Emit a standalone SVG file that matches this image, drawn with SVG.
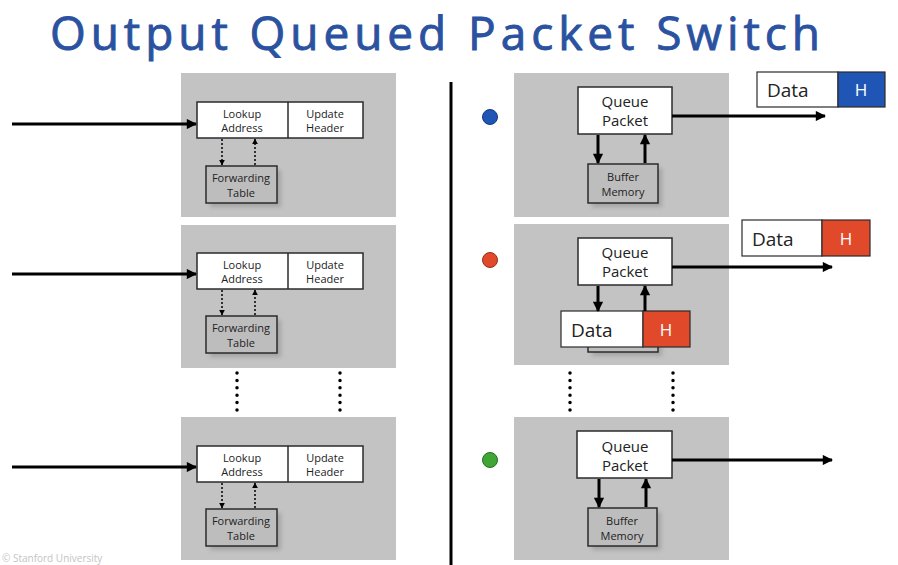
<svg xmlns="http://www.w3.org/2000/svg" width="898" height="565" viewBox="0 0 898 565">
  <defs>
    <style>
      .panel { fill: #c3c3c3; }
      .box { fill: #ffffff; stroke: #2b2b2b; stroke-width: 1.5; }
      .sub { fill: #bdbdbd; stroke: #2b2b2b; stroke-width: 1.5; }
      .shadow { fill: #8a8a8a; opacity: 0.55; filter: url(#soft); }
      .t { font-family: "Open Sans", "Noto Sans", "Liberation Sans", sans-serif; fill: #222; text-anchor: middle; }
      .s11 { font-size: 11px; }
      .s15 { font-size: 15px; }
      .data { font-family: "Open Sans", "Noto Sans", "Liberation Sans", sans-serif; font-size: 19px; fill: #222; }
      .h { font-family: "Open Sans", "Noto Sans", "Liberation Sans", sans-serif; font-size: 17px; fill: #ffffff; text-anchor: middle; }
      .arrow { stroke: #000; stroke-width: 3; fill: none; marker-end: url(#ah); }
      .dotted { stroke: #000; stroke-width: 1.5; stroke-dasharray: 2 2; fill: none; }
      .dots { stroke: #000; stroke-width: 3.5; stroke-linecap: round; stroke-dasharray: 0 7.4; fill: none; }
    </style>
    <marker id="ah" viewBox="0 0 10 10" refX="9" refY="5" markerWidth="4.4" markerHeight="3.4" orient="auto" markerUnits="strokeWidth">
      <path d="M0,0 L10,5 L0,10 z" fill="#000"/>
    </marker>
    <marker id="sah" viewBox="0 0 10 10" refX="9" refY="5" markerWidth="4" markerHeight="4" orient="auto" markerUnits="strokeWidth">
      <path d="M0,0 L10,5 L0,10 z" fill="#000"/>
    </marker>
    <filter id="soft" x="-20%" y="-20%" width="140%" height="140%">
      <feGaussianBlur stdDeviation="2"/>
    </filter>
  </defs>

  <rect width="898" height="565" fill="#ffffff"/>

  <!-- title -->
  <text x="50" y="50" font-family="Open Sans, Noto Sans, Liberation Sans, sans-serif" font-size="46" fill="#2a52a0" stroke="#2a52a0" stroke-width="0.9" textLength="770" lengthAdjust="spacing">Output Queued Packet Switch</text>

  <!-- divider between input and output sides -->
  <line x1="451" y1="82" x2="451" y2="565" stroke="#000" stroke-width="3"/>

  <!-- input port 1 -->
  <g id="in1">
    <rect class="panel" x="181" y="73" width="215" height="144"/>
    <rect class="box" x="197" y="102" width="166" height="36"/>
    <line x1="288" y1="102" x2="288" y2="138" stroke="#2b2b2b" stroke-width="1.5"/>
    <text class="t s11" x="242" y="118">Lookup</text>
    <text class="t s11" x="242" y="132">Address</text>
    <text class="t s11" x="325" y="118">Update</text>
    <text class="t s11" x="325" y="132">Header</text>
    <rect class="shadow" x="210" y="170" width="71" height="37"/>
    <rect class="sub" x="206" y="166" width="71" height="37"/>
    <text class="t s11" x="241" y="182">Forwarding</text>
    <text class="t s11" x="241" y="197">Table</text>
  </g>

  <!-- input port 2 -->
  <g id="in2">
    <rect class="panel" x="181" y="225" width="215" height="143"/>
    <rect class="box" x="197" y="253" width="166" height="36"/>
    <line x1="288" y1="253" x2="288" y2="289" stroke="#2b2b2b" stroke-width="1.5"/>
    <text class="t s11" x="242" y="269">Lookup</text>
    <text class="t s11" x="242" y="283">Address</text>
    <text class="t s11" x="325" y="269">Update</text>
    <text class="t s11" x="325" y="283">Header</text>
    <rect class="shadow" x="210" y="320" width="71" height="37"/>
    <rect class="sub" x="206" y="316" width="71" height="37"/>
    <text class="t s11" x="241" y="332">Forwarding</text>
    <text class="t s11" x="241" y="347">Table</text>
  </g>

  <!-- input port 3 -->
  <g id="in3">
    <rect class="panel" x="181" y="417" width="215" height="143"/>
    <rect class="box" x="197" y="446" width="166" height="36"/>
    <line x1="288" y1="446" x2="288" y2="482" stroke="#2b2b2b" stroke-width="1.5"/>
    <text class="t s11" x="242" y="462">Lookup</text>
    <text class="t s11" x="242" y="476">Address</text>
    <text class="t s11" x="325" y="462">Update</text>
    <text class="t s11" x="325" y="476">Header</text>
    <rect class="shadow" x="210" y="513" width="71" height="37"/>
    <rect class="sub" x="206" y="509" width="71" height="37"/>
    <text class="t s11" x="241" y="525">Forwarding</text>
    <text class="t s11" x="241" y="540">Table</text>
  </g>

  <!-- output port 1 -->
  <g id="out1">
    <rect class="panel" x="514" y="73" width="215" height="144"/>
    <rect class="box" x="578" y="87" width="94" height="47"/>
    <text class="t s15" x="625" y="107">Queue</text>
    <text class="t s15" x="625" y="126">Packet</text>
    <rect class="shadow" x="592" y="168" width="70" height="39"/>
    <rect class="sub" x="588" y="164" width="70" height="39"/>
    <text class="t s11" x="623" y="181">Buffer</text>
    <text class="t s11" x="623" y="196">Memory</text>
  </g>

  <!-- output port 2, holding a queued packet -->
  <g id="out2">
    <rect class="panel" x="514" y="224" width="215" height="141"/>
    <rect class="box" x="578" y="238" width="94" height="47"/>
    <text class="t s15" x="625" y="258">Queue</text>
    <text class="t s15" x="625" y="277">Packet</text>
    <rect class="shadow" x="592" y="318" width="70" height="38"/>
    <rect class="sub" x="588" y="314" width="70" height="38" fill="#ffffff"/>
  </g>

  <!-- output port 3 -->
  <g id="out3">
    <rect class="panel" x="514" y="417" width="215" height="143"/>
    <rect class="box" x="577" y="431" width="95" height="47"/>
    <text class="t s15" x="625" y="452">Queue</text>
    <text class="t s15" x="625" y="471">Packet</text>
    <rect class="shadow" x="592" y="512" width="69" height="38"/>
    <rect class="sub" x="588" y="508" width="69" height="38"/>
    <text class="t s11" x="622" y="525">Buffer</text>
    <text class="t s11" x="622" y="540">Memory</text>
  </g>

  <!-- port colour markers -->
  <g id="markers">
    <circle cx="490" cy="117" r="7.5" fill="#1f55b5" stroke="#123a80" stroke-width="1"/>
    <circle cx="490" cy="260" r="7.5" fill="#e04a2a" stroke="#9a2e18" stroke-width="1"/>
    <circle cx="490" cy="460" r="7.5" fill="#3fa535" stroke="#23701c" stroke-width="1"/>
  </g>

  <!-- packets -->
  <g id="pkt-blue">
    <rect x="757" y="72" width="81" height="35" fill="#ffffff" stroke="#2b2b2b" stroke-width="1.2"/>
    <rect x="838" y="72" width="47" height="35" fill="#1f55b5" stroke="#2b2b2b" stroke-width="1.2"/>
    <text class="data" x="767" y="97">Data</text>
    <text class="h" x="861" y="96">H</text>
  </g>
  <g id="pkt-red-out">
    <rect x="742" y="220" width="80" height="36" fill="#ffffff" stroke="#2b2b2b" stroke-width="1.2"/>
    <rect x="822" y="220" width="48" height="36" fill="#e04a2a" stroke="#2b2b2b" stroke-width="1.2"/>
    <text class="data" x="752" y="246">Data</text>
    <text class="h" x="846" y="245">H</text>
  </g>
  <g id="pkt-red-queued">
    <rect x="561" y="311" width="82" height="36" fill="#ffffff" stroke="#2b2b2b" stroke-width="1.2"/>
    <rect x="643" y="311" width="47" height="36" fill="#e04a2a" stroke="#2b2b2b" stroke-width="1.2"/>
    <text class="data" x="571" y="337">Data</text>
    <text class="h" x="666" y="336">H</text>
  </g>

  <!-- connectors -->
  <g id="connectors">
    <!-- inputs -->
    <line class="arrow" x1="12" y1="124" x2="196" y2="124"/>
    <line class="arrow" x1="12" y1="274" x2="196" y2="274"/>
    <line class="arrow" x1="12" y1="467" x2="196" y2="467"/>
    <!-- lookups -->
    <line class="dotted" x1="222" y1="139" x2="222" y2="165" marker-end="url(#sah)"/>
    <line class="dotted" x1="255" y1="165" x2="255" y2="139" marker-end="url(#sah)"/>
    <line class="dotted" x1="222" y1="290" x2="222" y2="315" marker-end="url(#sah)"/>
    <line class="dotted" x1="255" y1="315" x2="255" y2="290" marker-end="url(#sah)"/>
    <line class="dotted" x1="222" y1="483" x2="222" y2="508" marker-end="url(#sah)"/>
    <line class="dotted" x1="255" y1="508" x2="255" y2="483" marker-end="url(#sah)"/>
    <!-- buffer memory -->
    <line class="arrow" x1="598" y1="135" x2="598" y2="163"/>
    <line class="arrow" x1="645" y1="163" x2="645" y2="135"/>
    <line class="arrow" x1="598" y1="286" x2="598" y2="311"/>
    <line class="arrow" x1="645" y1="311" x2="645" y2="286"/>
    <line class="arrow" x1="599" y1="479" x2="599" y2="507"/>
    <line class="arrow" x1="646" y1="507" x2="646" y2="479"/>
    <!-- outputs -->
    <line class="arrow" x1="672" y1="116" x2="825" y2="116"/>
    <line class="arrow" x1="672" y1="267" x2="832" y2="267"/>
    <line class="arrow" x1="672" y1="460" x2="832" y2="460"/>
  </g>

  <!-- ellipsis between ports -->
  <g id="ellipsis">
    <line class="dots" x1="237" y1="373" x2="237" y2="411"/>
    <line class="dots" x1="340" y1="373" x2="340" y2="411"/>
    <line class="dots" x1="570" y1="373" x2="570" y2="411"/>
    <line class="dots" x1="673" y1="373" x2="673" y2="411"/>
  </g>

  <text x="2" y="562" font-family="Open Sans, Noto Sans, Liberation Sans, sans-serif" font-size="10" fill="#c4c4c4">© Stanford University</text>
</svg>
